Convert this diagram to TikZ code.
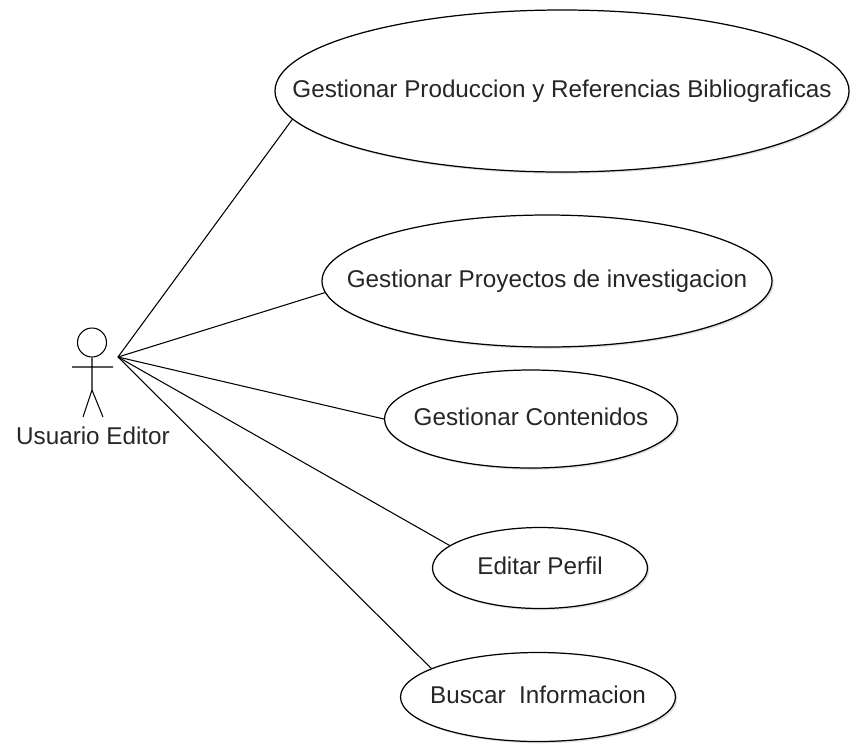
\documentclass[tikz,border=0pt]{standalone}
\usepackage{fontspec}
\setmainfont{Liberation Sans}
\usetikzlibrary{positioning,shapes.geometric,shadows}
\newcommand{\uctext}[1]{\raisebox{0.08cm}{\makebox[0pt][c]{#1}}}
\tikzset{use node/.style={ellipse,draw,fill=white,line width=0.7pt,inner sep=0pt,text=black!85,
    font=\fontsize{13.8}{16}\selectfont,
    drop shadow={shadow xshift=1pt,shadow yshift=-1pt,opacity=0.3,fill=black!40}},}

\begin{document}
\begin{tikzpicture}[line width=0.6pt]
      \useasboundingbox (0,0) rectangle (17,-14.88);

      % actor
      \node[circle,draw,minimum size=0.58cm,inner sep=0pt] (head) at (1.84,-6.85) {};
      \coordinate (hip) at (1.84,-7.8);
      \coordinate (larm) at (1.44,-7.34);
      \coordinate (rarm) at (2.26,-7.34);
      \coordinate (lfoot) at (1.66,-8.34);
      \coordinate (rfoot) at (2.06,-8.34);
      \coordinate (hand) at (2.36,-7.14);
      \node[text=black!85,font=\fontsize{13.8}{16}\selectfont] (0) at (1.86,-8.72) {Usuario Editor};
      \draw (head.south) -- (hip) (larm) -- (rarm) (lfoot) -- (hip) -- (rfoot);

      % use cases
      \node[use node,minimum width=11.48cm,minimum height=3.24cm] (1) at (11.24,-1.82) {\uctext{Gestionar Produccion y Referencias Bibliograficas}};
      \node[use node,minimum width=9cm,minimum height=2.64cm] (2) at (10.94,-5.62) {\uctext{Gestionar Proyectos de investigacion}};
      \node[use node,minimum width=5.86cm,minimum height=1.96cm] (3) at (10.62,-8.38) {\uctext{Gestionar Contenidos}};
      \node[use node,minimum width=4.3cm,minimum height=1.62cm] (4) at (10.8,-11.36) {\uctext{Editar Perfil}};
      \node[use node,minimum width=5.5cm,minimum height=1.78cm] (5) at (10.76,-13.94) {\uctext{Buscar\ \ Informacion}};

      \path[draw]
        (hand) edge (1.186)
        (hand) edge (2.183)
        (hand) edge (3.west)
        (hand) edge (4.166)
        (hand) edge (5.165);

    \end{tikzpicture}
\end{document}
